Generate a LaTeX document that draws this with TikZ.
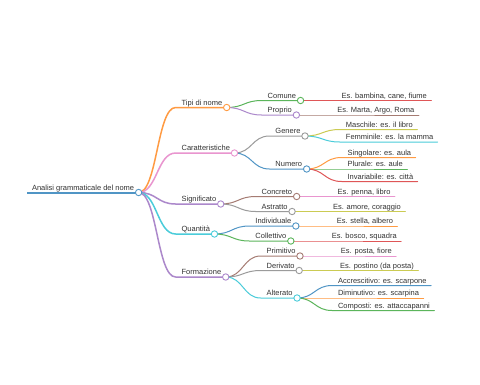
\documentclass[tikz,border=0pt]{standalone}
\usepackage{fontspec}
\setmainfont{Liberation Sans}
\definecolor{cA}{HTML}{1F77B4}
\definecolor{cB}{HTML}{FF7F0E}
\definecolor{cC}{HTML}{2CA02C}
\definecolor{cD}{HTML}{D62728}
\definecolor{cE}{HTML}{9467BD}
\definecolor{cF}{HTML}{8C564B}
\definecolor{cG}{HTML}{E377C2}
\definecolor{cH}{HTML}{7F7F7F}
\definecolor{cI}{HTML}{BCBD22}
\definecolor{cJ}{HTML}{17BECF}
\definecolor{txtc}{HTML}{333333}
% #1 name, #2 parent end coordinate, #3 horizontal gap, #4 y, #5 colour, #6 line width, #7 text
\newcommand\mmnode[7]{%
  \path (#2) ++(#3,0) coordinate (#1tmp);
  \coordinate (#1s) at (#1tmp |- 0,#4);
  \node[mmtext] (#1t) at ([xshift=6pt,yshift=2.5pt]#1s) {#7};
  \coordinate (#1e) at ([xshift=4.5pt,yshift=-2.5pt]#1t.base east);
  \draw[#5!78, line width=#6, line cap=round] (#2) .. controls +({#3/2},0) and +({-#3/2},0) .. (#1s) -- (#1e);
}
\newcommand\mmdot[2]{\node[mmcircle, draw=#2!78] (#1c) at (#1e) {};}
\begin{document}
\begin{tikzpicture}[x=1pt,y=-1pt,
  mmtext/.style={inner sep=0pt, outer sep=0pt, anchor=base west, text=txtc, font=\fontsize{7.5}{9}\selectfont},
  mmcircle/.style={circle, fill=white, line width=0.9pt, minimum size=6.4pt, inner sep=0pt}]
\useasboundingbox[fill=white] (0,0) rectangle (480,384);
% root
\coordinate (roots) at (27,192.5);
\node[mmtext] (roott) at ([xshift=5pt,yshift=2.5pt]roots) {Analisi grammaticale del nome};
\coordinate (roote) at ([xshift=4.5pt,yshift=-2.5pt]roott.base east);
\draw[cA!78, line width=2pt] (roots) -- (roote);
% level 1
\mmnode{tipi}{roote}{37}{107.5}{cB}{1.5pt}{Tipi di nome}
\mmnode{car}{roote}{37}{153}{cG}{1.5pt}{Caratteristiche}
\mmnode{sig}{roote}{37}{204}{cE}{1.5pt}{Significato}
\mmnode{qua}{roote}{37}{234}{cJ}{1.5pt}{Quantità}
\mmnode{for}{roote}{37}{277}{cE}{1.5pt}{Formazione}
% Tipi di nome
\mmnode{com}{tipie}{35}{100.5}{cC}{1pt}{Comune}
\mmnode{comx}{come}{35}{100.5}{cD}{1pt}{Es. bambina, cane, fiume}
\mmnode{pro}{tipie}{35}{115}{cE}{1pt}{Proprio}
\mmnode{prox}{proe}{35}{115}{cF}{1pt}{Es. Marta, Argo, Roma}
% Caratteristiche
\mmnode{gen}{care}{35}{136}{cH}{1pt}{Genere}
\mmnode{genm}{gene}{35}{129.5}{cI}{1pt}{Maschile: es. il libro}
\mmnode{genf}{gene}{35}{142}{cJ}{1pt}{Femminile: es. la mamma}
\mmnode{num}{care}{35}{169}{cA}{1pt}{Numero}
\mmnode{nums}{nume}{35}{157.5}{cB}{1pt}{Singolare: es. aula}
\mmnode{nump}{nume}{35}{169}{cC}{1pt}{Plurale: es. aule}
\mmnode{numi}{nume}{35}{181.5}{cD}{1pt}{Invariabile: es. città}
% Significato
\mmnode{con}{sige}{35}{196.5}{cF}{1pt}{Concreto}
\mmnode{conx}{cone}{35}{196.5}{cG}{1pt}{Es. penna, libro}
\mmnode{ast}{sige}{35}{211.5}{cH}{1pt}{Astratto}
\mmnode{astx}{aste}{35}{211.5}{cI}{1pt}{Es. amore, coraggio}
% Quantita
\mmnode{ind}{quae}{35}{226}{cA}{1pt}{Individuale}
\mmnode{indx}{inde}{35}{226}{cB}{1pt}{Es. stella, albero}
\mmnode{col}{quae}{35}{241}{cC}{1pt}{Collettivo}
\mmnode{colx}{cole}{35}{241}{cD}{1pt}{Es. bosco, squadra}
% Formazione
\mmnode{pri}{fore}{35}{256}{cF}{1pt}{Primitivo}
\mmnode{prix}{prie}{35}{256}{cG}{1pt}{Es. posta, fiore}
\mmnode{der}{fore}{35}{270.5}{cH}{1pt}{Derivato}
\mmnode{derx}{dere}{35}{270.5}{cI}{1pt}{Es. postino (da posta)}
\mmnode{alt}{fore}{35}{298}{cJ}{1pt}{Alterato}
\mmnode{alta}{alte}{35}{285.5}{cA}{1pt}{Accrescitivo: es. scarpone}
\mmnode{altd}{alte}{35}{298}{cB}{1pt}{Diminutivo: es. scarpina}
\mmnode{altc}{alte}{35}{310.5}{cC}{1pt}{Composti: es. attaccapanni}
% circles
\mmdot{root}{cA}
\mmdot{tipi}{cB}
\mmdot{car}{cG}
\mmdot{sig}{cE}
\mmdot{qua}{cJ}
\mmdot{for}{cE}
\mmdot{com}{cC}
\mmdot{pro}{cE}
\mmdot{gen}{cH}
\mmdot{num}{cA}
\mmdot{con}{cF}
\mmdot{ast}{cH}
\mmdot{ind}{cA}
\mmdot{col}{cC}
\mmdot{pri}{cF}
\mmdot{der}{cH}
\mmdot{alt}{cJ}
\end{tikzpicture}
\end{document}
